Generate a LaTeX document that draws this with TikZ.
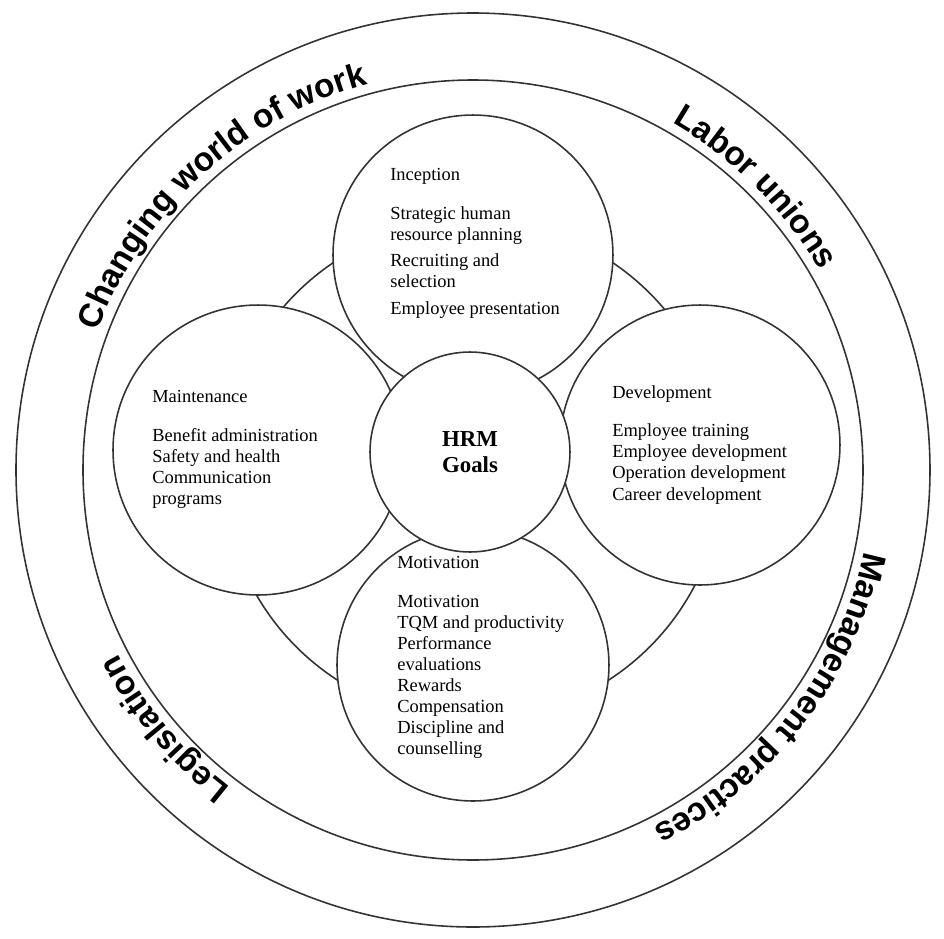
\documentclass[tikz,border=0pt]{standalone}
\usepackage{fontspec}
\setmainfont{Liberation Serif}
\setsansfont{Liberation Sans}
\usetikzlibrary{decorations.text}
\begin{document}
\begin{tikzpicture}[x=0.02cm,y=0.02cm,
  ring/.style={draw=black!80,line width=0.9pt},
  blk/.style={anchor=north west,align=left,inner sep=0pt,font=\fontsize{10.5}{12}\selectfont},
  arctext/.style={decorate,decoration={text along path,text align=center,
     text={|\sffamily\bfseries\fontsize{19}{22}\selectfont|#1}}}]
\useasboundingbox (-473,-468) rectangle (471,470);
\draw[ring] (0,0) circle (457);
\draw[ring] (0,0) circle (390);
\draw[ring] (0,0) circle (250);
\node[ring,circle,fill=white,minimum size=5.6cm] (inc) at (0,215) {};
\node[ring,circle,fill=white,minimum size=5.8cm] (mai) at (-215,20) {};
\node[ring,circle,fill=white,minimum size=5.6cm] (dev) at (227,25) {};
\node[ring,circle,fill=white,minimum size=5.44cm] (mot) at (0,-195) {};
\node[ring,circle,fill=white,minimum size=4cm,font=\bfseries\fontsize{13}{15}\selectfont,align=center] (hrm) at (-3,18) {HRM\\Goals};
\node[blk] (tinc) at (-83,302) {Inception\\[10pt]Strategic human\\resource planning\\[3pt]Recruiting and\\selection\\[3pt]Employee presentation};
\node[blk] (tmai) at (-321,80) {Maintenance\\[10pt]Benefit administration\\Safety and health\\Communication\\programs};
\node[blk] (tdev) at (139,85) {Development\\[10pt]Employee training\\Employee development\\Operation development\\Career development};
\node[blk] (tmot) at (-76,-86) {Motivation\\[10pt]Motivation\\TQM and productivity\\Performance\\evaluations\\Rewards\\Compensation\\Discipline and\\counselling};
\path[arctext={Changing world of work}] (170:400) arc[start angle=170,end angle=95,radius=400];
\path[arctext={Labor unions}] (80:400) arc[start angle=80,end angle=10,radius=400];
\path[arctext={Management practices}] (0:400) arc[start angle=0,end angle=-75,radius=400];
\path[arctext={Legislation}] (-105:400) arc[start angle=-105,end angle=-175,radius=400];
\end{tikzpicture}
\end{document}
